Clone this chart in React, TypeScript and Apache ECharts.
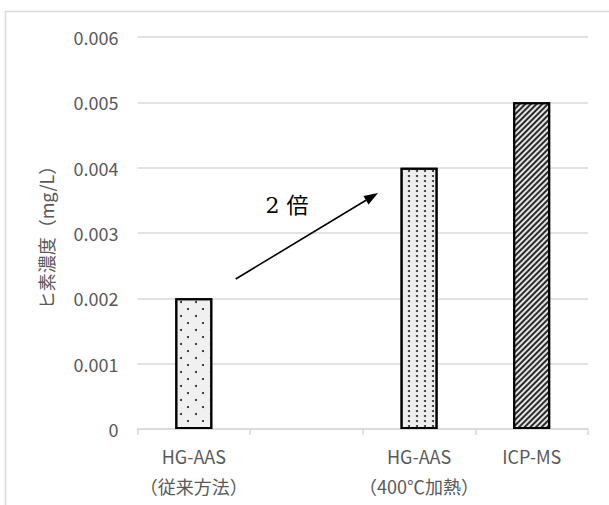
import React, { useEffect, useRef } from "react";
import * as echarts from "echarts";

const categories = ["HG-AAS\n（従来方法）", "", "HG-AAS\n（400℃加熱）", "ICP-MS"];
const values: (number | null)[] = [0.002, null, 0.004, 0.005];
const yTicks = { min: 0, max: 0.006, interval: 0.001 };
const yAxisName = "ヒ素濃度（mg/L）";
const annotationText = "2 倍";

const decals = [
  {
    symbol: "circle",
    symbolSize: 1,
    color: "#222",
    dashArrayX: [[1.6, 12.4], [0, 7, 1.6, 5.4]],
    dashArrayY: [1.6, 5],
    rotation: 0,
  },
  null,
  {
    symbol: "circle",
    symbolSize: 1,
    color: "#222",
    dashArrayX: [1.6, 5.4],
    dashArrayY: [1.6, 2.8],
    rotation: 0,
  },
  {
    symbol: "rect",
    symbolSize: 1,
    color: "#2a2a2a",
    dashArrayX: [1, 0],
    dashArrayY: [1.4, 1.9],
    rotation: -Math.PI / 4,
  },
];
const fills = ["#f0f0f0", "#f0f0f0", "#eeeeee", "#e4e4e4"];

export default function App() {
  const ref = useRef<HTMLDivElement>(null);
  useEffect(() => {
    document.body.style.margin = "0";
    const chart = echarts.init(ref.current!, null, { renderer: "svg" });
    const font = '"Noto Sans CJK JP", "Noto Sans", sans-serif';
    const tip = [378, 193];
    const ux = 0.857, uy = -0.516;
    const len = 14, hw = 5;
    const bx = tip[0] - len * ux, by = tip[1] - len * uy;
    const px = -uy, py = ux;
    chart.setOption({
      animation: false,
      backgroundColor: "#ffffff",
      grid: { left: 137.5, right: 21, top: 37, bottom: 76, containLabel: false },
      xAxis: {
        type: "category",
        data: categories,
        axisLine: { show: true, lineStyle: { color: "#d9d9d9", width: 1.5 } },
        axisTick: { show: true, length: 6, lineStyle: { color: "#d9d9d9", width: 1.5 } },
        axisLabel: {
          color: "#595959",
          fontSize: 18,
          fontFamily: font,
          lineHeight: 30,
          margin: 12,
          interval: 0,
        },
      },
      yAxis: {
        type: "value",
        min: yTicks.min,
        max: yTicks.max,
        interval: yTicks.interval,
        name: yAxisName,
        nameLocation: "middle",
        nameGap: 83,
        nameRotate: 90,
        nameTextStyle: { color: "#595959", fontSize: 18, fontFamily: font },
        axisLine: { show: false },
        axisTick: { show: false },
        splitLine: { lineStyle: { color: "#d9d9d9", width: 1.5 } },
        axisLabel: {
          color: "#595959",
          fontSize: 18,
          fontFamily: font,
          margin: 19,
        },
      },
      series: [
        {
          type: "bar",
          barWidth: 37,
          data: values.map((v, i) => ({
            value: v,
            itemStyle: {
              color: fills[i],
              borderColor: "#000",
              borderWidth: 2,
              decal: decals[i] || undefined,
            },
          })),
        },
      ],
      graphic: [
        {
          type: "rect",
          shape: { x: 5.5, y: 11.5, width: 800, height: 800 },
          style: { fill: "none", stroke: "#d9d9d9", lineWidth: 1.5 },
          silent: true,
          z: -1,
        },
        {
          type: "line",
          shape: { x1: 235.7, y1: 279, x2: bx, y2: by },
          style: { stroke: "#000", lineWidth: 1.6 },
          z: 100,
        },
        {
          type: "polygon",
          shape: {
            points: [
              [tip[0], tip[1]],
              [bx + px * hw, by + py * hw],
              [bx - px * hw, by - py * hw],
            ],
          },
          style: { fill: "#000" },
          z: 100,
        },
        {
          type: "text",
          x: 287,
          y: 205,
          style: {
            text: annotationText,
            fill: "#000",
            fontSize: 22,
            fontFamily: '"DejaVu Serif", "Liberation Serif", "Noto Sans CJK JP", serif',
            align: "center",
            verticalAlign: "middle",
          },
          z: 100,
        },
      ],
    });
    return () => chart.dispose();
  }, []);
  return (
    <div
      ref={ref}
      style={{ position: "fixed", left: 0, top: 0, width: 609, height: 505 }}
    />
  );
}
